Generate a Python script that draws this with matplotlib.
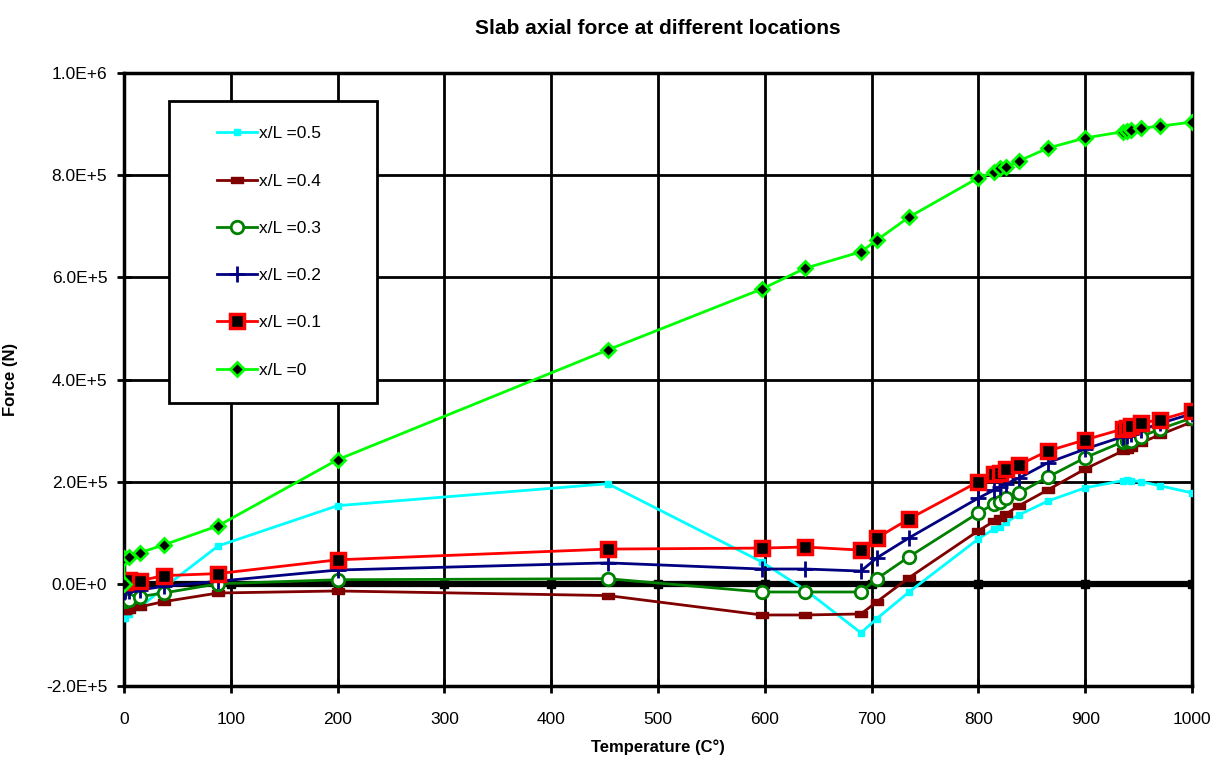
import numpy as np
import matplotlib
matplotlib.use("Agg")
from matplotlib import pyplot as plt
from matplotlib.patches import Rectangle

plt.rcParams['font.family'] = ['Liberation Sans', 'DejaVu Sans']

# temperatures of the analysis steps (C)
temp = [0, 1, 5, 15, 37, 88, 200, 453, 597, 638, 690, 705, 735,
        800, 815, 820, 826, 838, 865, 900, 935, 939, 943, 952, 970, 1000]

# axial force (N) per location x/L
f_05 = [-6.7e4, -6.6e4, -5.9e4, -4.6e4, -0.8e4, 7.4e4, 1.53e5, 1.96e5, 4.3e4, -1.2e4, -9.6e4, -6.8e4, -1.6e4,
        8.8e4, 1.08e5, 1.12e5, 1.21e5, 1.35e5, 1.62e5, 1.88e5, 2.02e5, 2.03e5, 2.02e5, 2.0e5, 1.92e5, 1.78e5]
f_04 = [-5.3e4, -5.3e4, -5.1e4, -4.5e4, -3.5e4, -1.8e4, -1.4e4, -2.3e4, -6.1e4, -6.1e4, -5.9e4, -3.5e4, 1.2e4,
        1.04e5, 1.23e5, 1.29e5, 1.37e5, 1.53e5, 1.84e5, 2.25e5, 2.6e5, 2.62e5, 2.66e5, 2.76e5, 2.92e5, 3.17e5]
f_03 = [-3.3e4, -3.3e4, -3.1e4, -2.5e4, -1.8e4, 0.0, 0.8e4, 1.0e4, -1.6e4, -1.6e4, -1.6e4, 1.0e4, 5.3e4,
        1.39e5, 1.57e5, 1.6e5, 1.68e5, 1.78e5, 2.09e5, 2.47e5, 2.78e5, 2.8e5, 2.8e5, 2.88e5, 3.03e5, 3.25e5]
f_02 = [-1.6e4, -1.5e4, -1.4e4, -1.2e4, -0.5e4, 0.5e4, 2.7e4, 4.1e4, 2.9e4, 2.9e4, 2.5e4, 5.1e4, 9.0e4,
        1.68e5, 1.84e5, 1.9e5, 1.96e5, 2.07e5, 2.37e5, 2.64e5, 2.88e5, 2.9e5, 2.94e5, 3.01e5, 3.14e5, 3.33e5]
f_01 = [0.4e4, 0.3e4, 0.8e4, 0.6e4, 1.6e4, 2.0e4, 4.7e4, 6.8e4, 7.0e4, 7.2e4, 6.6e4, 9.0e4, 1.27e5,
        2.0e5, 2.15e5, 2.17e5, 2.25e5, 2.33e5, 2.6e5, 2.82e5, 3.03e5, 3.05e5, 3.09e5, 3.15e5, 3.21e5, 3.39e5]
f_00 = [0.0, 5.1e4, 5.3e4, 6.1e4, 7.6e4, 1.135e5, 2.43e5, 4.58e5, 5.77e5, 6.18e5, 6.5e5, 6.73e5, 7.18e5,
        7.95e5, 8.06e5, 8.14e5, 8.16e5, 8.28e5, 8.53e5, 8.73e5, 8.85e5, 8.86e5, 8.88e5, 8.92e5, 8.96e5, 9.04e5]
temp_00 = [0, 0, 5, 15, 37, 88, 200, 453, 597, 638, 690, 705, 735,
           800, 815, 820, 826, 838, 865, 900, 935, 939, 943, 952, 970, 1000]

zero_t = [0, 100, 200, 300, 400, 500, 600, 700, 800, 900, 1000]
zero_f = [0, 0, 0, 0, 0, 0, 0, 0, 0, 0, 0]

labels = ['x/L =0.5', 'x/L =0.4', 'x/L =0.3', 'x/L =0.2', 'x/L =0.1', 'x/L =0']

fig = plt.figure(figsize=(12.18, 7.6), dpi=100)
ax = fig.add_axes([0.1018, 0.0974, 0.8769, 0.8065])

# zero reference line
ax.plot(zero_t, zero_f, color='black', lw=4.5, marker='s', ms=6, zorder=2)

bar = [(-1, -0.45), (1, -0.45), (1, 0.45), (-1, 0.45), (-1, -0.45)]

ax.plot(temp, f_05, color='cyan', lw=2, marker='s', ms=4.5, label=labels[0], zorder=3)
ax.plot(temp, f_04, color='#800000', lw=2, marker=bar, ms=9, label=labels[1], zorder=3)
ax.plot(temp, f_03, color='#008000', lw=2, marker='o', ms=9, mfc='white', mew=2, label=labels[2], zorder=3)
ax.plot(temp, f_02, color='#000080', lw=2, marker='+', ms=11, mew=2, label=labels[3], zorder=3)
ax.plot(temp, f_01, color='red', lw=2, marker='s', ms=10, mfc='black', mec='red', mew=2.5, label=labels[4], zorder=3)
ax.plot(temp_00, f_00, color='#00FF00', lw=2, marker='D', ms=7, mfc='black', mec='#00FF00', mew=2, label=labels[5], zorder=3)

ax.set_xlim(0, 1000)
ax.set_ylim(-2e5, 1e6)
ax.set_xticks(np.arange(0, 1001, 100))
ax.set_yticks(np.arange(-2e5, 1.01e6, 2e5))
ax.set_yticklabels(['-2.0E+5', '0.0E+0', '2.0E+5', '4.0E+5', '6.0E+5', '8.0E+5', '1.0E+6'])
ax.grid(True, color='black', lw=2)
ax.set_axisbelow(True)
for s in ax.spines.values():
    s.set_linewidth(2.5)
ax.tick_params(direction='inout', length=10, width=2, labelsize=12.5)
ax.tick_params(axis='x', pad=14)
ax.tick_params(axis='y', pad=7)

ax.set_title('Slab axial force at different locations', fontsize=15, fontweight='bold', pad=28)
ax.set_xlabel('Temperature (C°)', fontsize=12, fontweight='bold', labelpad=9)
ax.set_ylabel('Force (N)', fontsize=12, fontweight='bold', labelpad=20)

# legend with a hand-drawn frame
box = Rectangle((0.042, 0.462), 0.195, 0.492, transform=ax.transAxes,
                facecolor='white', edgecolor='black', lw=2, zorder=5)
ax.add_patch(box)
leg = ax.legend(loc='center', bbox_to_anchor=(0.136, 0.708), frameon=False,
                fontsize=12.5, labelspacing=1.85, handlelength=2.3, handletextpad=0.1)
leg.set_zorder(6)

plt.savefig('out.png', dpi=100)
